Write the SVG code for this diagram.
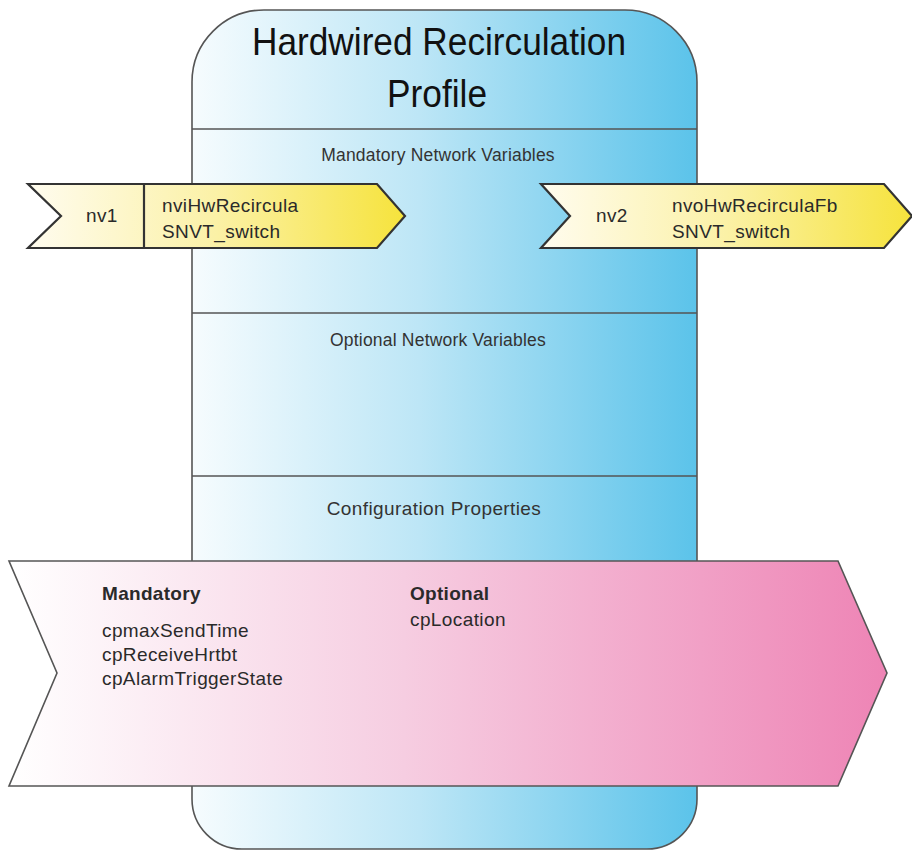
<svg xmlns="http://www.w3.org/2000/svg" width="912" height="854" viewBox="0 0 912 854">
  <defs>
    <linearGradient id="gBlue" x1="0" y1="0" x2="1" y2="0">
      <stop offset="0" stop-color="#f6fcfe"/>
      <stop offset="0.45" stop-color="#bde6f6"/>
      <stop offset="1" stop-color="#5bc3ea"/>
    </linearGradient>
    <linearGradient id="gYellow" x1="0" y1="0" x2="1" y2="0">
      <stop offset="0" stop-color="#fffcef"/>
      <stop offset="0.5" stop-color="#fbf1a6"/>
      <stop offset="1" stop-color="#f6e33c"/>
    </linearGradient>
    <linearGradient id="gPink" x1="0" y1="0" x2="1" y2="0">
      <stop offset="0" stop-color="#ffffff"/>
      <stop offset="0.45" stop-color="#f6cde1"/>
      <stop offset="1" stop-color="#ee84b5"/>
    </linearGradient>
    <style>
      .outline { stroke: #555555; stroke-width: 1.6; }
      .arrow { stroke: #333333; stroke-width: 2.2; stroke-linejoin: miter; }
      .sep { stroke: #555555; stroke-width: 1.3; fill: none; }
      text { font-family: "Liberation Sans", Arial, Helvetica, sans-serif; fill: #2a2a2a; }
      .title { font-size: 39px; fill: #111111; text-anchor: middle; }
      .section { font-size: 17.5px; letter-spacing: 0.2px; text-anchor: middle; fill: #333333; }
      .nv { font-size: 19px; letter-spacing: 0.4px; fill: #2a2a2a; }
      .cp { font-size: 19px; letter-spacing: 0.4px; fill: #2a2a2a; }
      .cpb { font-size: 19px; letter-spacing: 0.3px; font-weight: bold; fill: #2a2a2a; }
    </style>
  </defs>

  <g id="profile">
    <path class="outline" fill="url(#gBlue)" d="M192,82 A72,72 0 0 1 264,10 L625,10 A72,72 0 0 1 697,82 L697,799 A50,50 0 0 1 647,849 L242,849 A50,50 0 0 1 192,799 Z"/>
    <line class="sep" x1="192" y1="129" x2="697" y2="129"/>
    <line class="sep" x1="192" y1="313" x2="697" y2="313"/>
    <line class="sep" x1="192" y1="476" x2="697" y2="476"/>
    <text class="title" x="439" y="55" textLength="374" lengthAdjust="spacingAndGlyphs">Hardwired Recirculation</text>
    <text class="title" x="437" y="107" textLength="100" lengthAdjust="spacingAndGlyphs">Profile</text>
    <text class="section" x="438" y="161">Mandatory Network Variables</text>
    <text class="section" x="438" y="346">Optional Network Variables</text>
    <text class="section" x="434" y="515" style="font-size:19px;letter-spacing:0.4px">Configuration Properties</text>
  </g>

  <g id="connectors"></g>

  <g id="nv1">
    <path class="arrow" fill="url(#gYellow)" d="M28,184 L377,184 L405,216 L377,248 L28,248 L61,216 Z"/>
    <line class="arrow" x1="144" y1="184" x2="144" y2="248"/>
    <text class="nv" x="86" y="222">nv1</text>
    <text class="nv" x="162" y="212">nviHwRecircula</text>
    <text class="nv" x="162" y="238">SNVT_switch</text>
  </g>

  <g id="nv2">
    <path class="arrow" fill="url(#gYellow)" d="M541,184 L884,184 L912,216 L884,248 L541,248 L570,216 Z"/>
    <text class="nv" x="596" y="222">nv2</text>
    <text class="nv" x="672" y="212">nvoHwRecirculaFb</text>
    <text class="nv" x="672" y="238">SNVT_switch</text>
  </g>

  <g id="config">
    <path class="outline" fill="url(#gPink)" d="M9,561 L838,561 L887,673 L838,786 L9,786 L57,673 Z"/>
    <text class="cpb" x="102" y="600">Mandatory</text>
    <text class="cp" x="102" y="637">cpmaxSendTime</text>
    <text class="cp" x="102" y="661">cpReceiveHrtbt</text>
    <text class="cp" x="102" y="685">cpAlarmTriggerState</text>
    <text class="cpb" x="410" y="600">Optional</text>
    <text class="cp" x="410" y="626">cpLocation</text>
  </g>
</svg>
